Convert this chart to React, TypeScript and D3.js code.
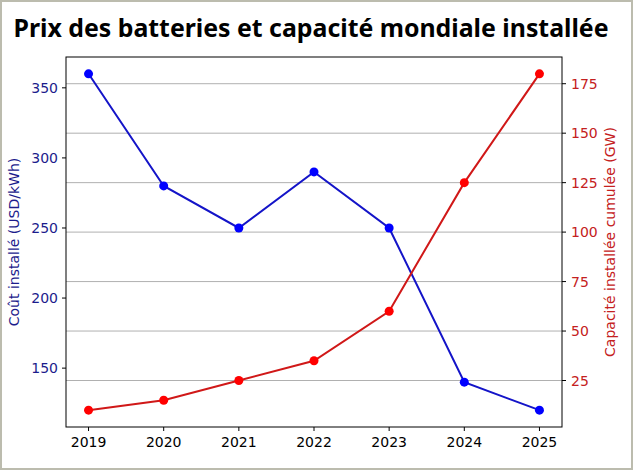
import React from 'react';
import * as d3 from 'd3';

// Séries : coût installé et capacité cumulée
const years = [2019, 2020, 2021, 2022, 2023, 2024, 2025];
const costUsdKwh = [360, 280, 250, 290, 250, 140, 120];
const capacityGw = [10, 15, 25, 35, 60, 125, 180];
const costTicks = [150, 200, 250, 300, 350];
const capacityTicks = [25, 50, 75, 100, 125, 150, 175];

const W = 633;
const H = 470;
const plot = { left: 66, right: 562, top: 57, bottom: 427 };

const BLUE_LINE = '#1414c8';
const BLUE_DOT = '#0000ff';
const BLUE_TEXT = '#1c1c8c';
const RED_LINE = '#d01818';
const RED_DOT = '#ff0000';
const RED_TEXT = '#c42020';
const FONT = 'DejaVu Sans, sans-serif';
const FS = 14;

// marge de 5 % façon matplotlib
const padded = (vals: number[]): [number, number] => {
  const [a, b] = d3.extent(vals) as [number, number];
  const m = (b - a) * 0.05;
  return [a - m, b + m];
};

const App = () => {
  const x = d3.scaleLinear().domain(padded(years)).range([plot.left, plot.right]);
  const yCost = d3.scaleLinear().domain(padded(costUsdKwh)).range([plot.bottom, plot.top]);
  const yCap = d3.scaleLinear().domain(padded(capacityGw)).range([plot.bottom, plot.top]);

  const costLine = d3.line<number>().x((_, i) => x(years[i])).y(d => yCost(d));
  const capLine = d3.line<number>().x((_, i) => x(years[i])).y(d => yCap(d));

  const midY = (plot.top + plot.bottom) / 2;

  return (
    <div style={{ position: 'absolute', left: 0, top: 0 }}>
      <svg width={W} height={H} style={{ display: 'block', background: '#fff' }}>
        <rect x={1} y={1} width={W - 2} height={H - 2} fill="none" stroke="#bcbcae" strokeWidth={2} />

        <text x={311} y={37} textAnchor="middle" textLength={595} lengthAdjust="spacingAndGlyphs"
          fontFamily="Noto Sans, sans-serif" fontWeight="bold" fontSize={25} fill="#000">
          Prix des batteries et capacité mondiale installée
        </text>

        {/* grille horizontale sur l'axe de droite */}
        {capacityTicks.map(t => (
          <line key={'g' + t} x1={plot.left} x2={plot.right} y1={yCap(t)} y2={yCap(t)}
            stroke="#b0b0b0" strokeWidth={1} />
        ))}

        <path d={costLine(costUsdKwh) ?? ''} fill="none" stroke={BLUE_LINE} strokeWidth={2} />
        {costUsdKwh.map((v, i) => (
          <circle key={'c' + i} cx={x(years[i])} cy={yCost(v)} r={4.5} fill={BLUE_DOT} />
        ))}

        <path d={capLine(capacityGw) ?? ''} fill="none" stroke={RED_LINE} strokeWidth={2} />
        {capacityGw.map((v, i) => (
          <circle key={'r' + i} cx={x(years[i])} cy={yCap(v)} r={4.5} fill={RED_DOT} />
        ))}

        <rect x={plot.left} y={plot.top} width={plot.right - plot.left} height={plot.bottom - plot.top}
          fill="none" stroke="#000" strokeWidth={1} />

        {/* axe X */}
        {years.map(yr => (
          <g key={'x' + yr}>
            <line x1={x(yr)} x2={x(yr)} y1={plot.bottom} y2={plot.bottom + 4} stroke="#000" />
            <text x={x(yr)} y={plot.bottom + 20} textAnchor="middle" fontFamily={FONT} fontSize={FS} fill="#000">
              {yr}
            </text>
          </g>
        ))}

        {/* axe gauche : coût */}
        {costTicks.map(t => (
          <g key={'l' + t}>
            <line x1={plot.left - 4} x2={plot.left} y1={yCost(t)} y2={yCost(t)} stroke="#000" />
            <text x={plot.left - 8} y={yCost(t) + 5} textAnchor="end" fontFamily={FONT} fontSize={FS} fill={BLUE_TEXT}>
              {t}
            </text>
          </g>
        ))}
        <text transform={`translate(19,${midY}) rotate(-90)`} textAnchor="middle" fontFamily={FONT}
          fontSize={FS} fill={BLUE_TEXT}>
          Coût installé (USD/kWh)
        </text>

        {/* axe droit : capacité */}
        {capacityTicks.map(t => (
          <g key={'rt' + t}>
            <line x1={plot.right} x2={plot.right + 4} y1={yCap(t)} y2={yCap(t)} stroke="#000" />
            <text x={plot.right + 9} y={yCap(t) + 5} textAnchor="start" fontFamily={FONT} fontSize={FS} fill={RED_TEXT}>
              {t}
            </text>
          </g>
        ))}
        <text transform={`translate(615,${midY}) rotate(-90)`} textAnchor="middle" fontFamily={FONT}
          fontSize={FS} fill={RED_TEXT}>
          Capacité installée cumulée (GW)
        </text>
      </svg>
    </div>
  );
};

export default App;
